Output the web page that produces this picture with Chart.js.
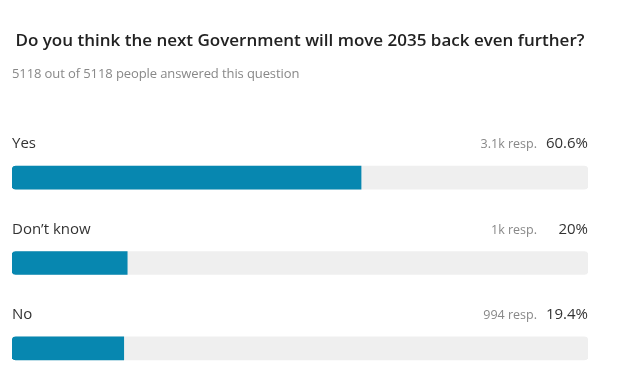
<!DOCTYPE html>
<html>
<head>
<meta charset="utf-8">
<script src="https://cdn.jsdelivr.net/npm/chart.js@4/dist/chart.umd.min.js"></script>
<style>
  html, body { margin: 0; padding: 0; background: #fff; }
  #wrap { position: relative; width: 628px; height: 392px; overflow: hidden; font-family: 'Open Sans', sans-serif; }
  #title { position: absolute; left: 0; width: 600px; top: 28px; text-align: center; font-size: 17px; font-weight: 600; color: #222; }
  #sub { position: absolute; left: 12px; top: 64px; font-size: 13px; color: #888; letter-spacing: -0.1px; }
  #chart { position: absolute; left: 0; top: 0; }
</style>
</head>
<body>
<div id="wrap">
  <canvas id="chart" width="628" height="392"></canvas>
  <div id="title">Do you think the next Government will move 2035 back even further?</div>
  <div id="sub">5118 out of 5118 people answered this question</div>
</div>
<script>
const answers = ['Yes', 'Don\u2019t know', 'No'];
const percents = [60.6, 20, 19.4];
const respLabels = ['3.1k resp.', '1k resp.', '994 resp.'];
const pctLabels = ['60.6%', '20%', '19.4%'];
const track = [100, 100, 100];

const rowText = {
  id: 'rowText',
  afterDatasetsDraw(chart) {
    const ctx = chart.ctx;
    const meta = chart.getDatasetMeta(0);
    const right = chart.chartArea.right;
    const left = chart.chartArea.left;
    ctx.save();
    ctx.textBaseline = 'alphabetic';
    meta.data.forEach((bar, i) => {
      const y = bar.y - 29.5;
      ctx.font = '15px "Open Sans", sans-serif';
      ctx.fillStyle = '#333';
      ctx.textAlign = 'left';
      ctx.fillText(answers[i], left, y);
      ctx.textAlign = 'right';
      ctx.fillText(pctLabels[i], right, y);
      ctx.font = '12.5px "Open Sans", sans-serif';
      ctx.fillStyle = '#888';
      ctx.fillText(respLabels[i], right - 51, y);
    });
    ctx.restore();
  }
};

new Chart(document.getElementById('chart'), {
  type: 'bar',
  data: {
    labels: answers,
    datasets: [
      {
        data: percents,
        backgroundColor: '#0787b0',
        borderRadius: { topLeft: 4, bottomLeft: 4, topRight: 0, bottomRight: 0 },
        borderSkipped: false,
        barThickness: 23,
        order: 1
      },
      {
        data: track,
        backgroundColor: '#efefef',
        borderRadius: 4,
        borderSkipped: false,
        barThickness: 23,
        order: 2
      }
    ]
  },
  options: {
    indexAxis: 'y',
    responsive: false,
    animation: false,
    layout: { padding: { left: 12, right: 40, top: 135, bottom: 1 } },
    scales: {
      x: { display: false, min: 0, max: 100 },
      y: { display: false, stacked: false }
    },
    datasets: { bar: { grouped: false } },
    plugins: { legend: { display: false }, tooltip: { enabled: false } }
  },
  plugins: [rowText]
});
</script>
</body>
</html>
